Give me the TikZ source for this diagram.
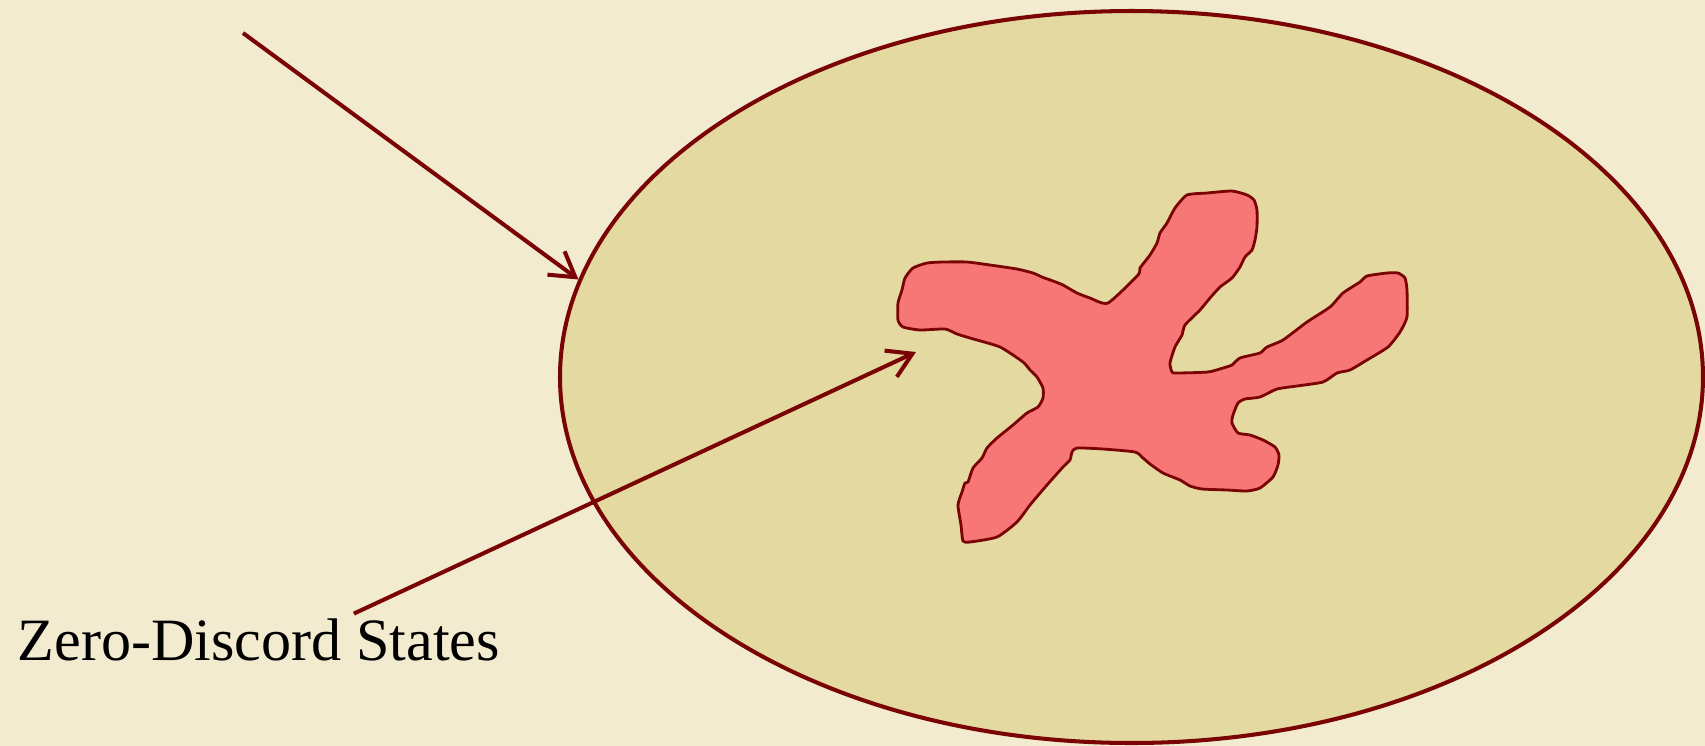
\documentclass[tikz,border=0pt]{standalone}
\definecolor{parchment}{RGB}{242,235,207}
\definecolor{sandfill}{RGB}{228,217,161}
\definecolor{blobred}{RGB}{247,118,118}
\definecolor{darkmaroon}{RGB}{122,4,4}
\usepackage{fontspec}
\setmainfont{Liberation Serif}
\usepackage{tikz}
\usetikzlibrary{shapes.geometric,arrows.meta,positioning,calc}

\begin{document}
\begin{tikzpicture}[x=0.1mm, y=-0.1mm,
    region/.style={ellipse, draw=darkmaroon, fill=sandfill, line width=1.15pt,
                   minimum width=114.3mm, minimum height=73.2mm, inner sep=0pt},
    blob/.style={draw=darkmaroon, fill=blobred, line width=0.8pt},
    label/.style={inner sep=0pt, font=\fontsize{17.1}{20}\selectfont},
    pointer/.style={-{Straight Barb[length=2.4mm,width=2.9mm]}, line width=1.15pt, darkmaroon}]

% Background
\fill[parchment] (0,0) rectangle (1705,746);

% State space
\node[region] (states) at (1131.5,377) {};

% Zero-discord set
\draw[blob] plot[smooth cycle, tension=0.35] coordinates {
  (898,320) (898,303) (902,290) (905,278) (913,268) (927,263) (943,262)
  (967,262) (990,265) (1017,269) (1033,273) (1042,277) (1053,281) (1063,285)
  (1077,293) (1090,298) (1108,303) (1138,275) (1140,268) (1150,255) (1157,243)
  (1160,233) (1167,223) (1175,208) (1187,195) (1207,193) (1232,191) (1247,195)
  (1254,200) (1257,210) (1257,227) (1255,240) (1252,250) (1245,257) (1240,267)
  (1232,278) (1220,287) (1210,298) (1200,310) (1185,325) (1182,335) (1175,347)
  (1170,363) (1172,372) (1177,373) (1208,372) (1223,368) (1232,365) (1240,358)
  (1260,353) (1267,347) (1283,340) (1307,322) (1330,307) (1343,293) (1360,282)
  (1367,276) (1387,273) (1398,273) (1405,278) (1407,290) (1407,317) (1400,332)
  (1388,347) (1367,360) (1350,370) (1337,373) (1323,382) (1297,386) (1277,389)
  (1260,397) (1245,399) (1238,403) (1233,415) (1232,423) (1238,433) (1250,435)
  (1263,440) (1275,447) (1279,455) (1278,465) (1273,477) (1260,488) (1247,491)
  (1227,490) (1202,489) (1190,486) (1180,480) (1163,473) (1150,464) (1143,458)
  (1135,452) (1103,449) (1077,448) (1072,452) (1070,460) (1063,467) (1047,485)
  (1030,505) (1017,522) (997,537) (970,542) (963,541) (961,525) (958,505)
  (962,492) (965,483) (968,482) (973,468) (982,458) (987,448) (997,438)
  (1013,425) (1027,413) (1038,407) (1043,398) (1043,388) (1037,377) (1030,370)
  (1023,362) (1000,347) (970,338) (957,334) (945,329) (920,330) (903,327)};

% Label
\node[label, anchor=base west] (zds) at (17,660) {Zero-Discord States};

% Arrow ends
\coordinate (topstart) at (243,33);
\coordinate (blobtip) at (916,352);

% Arrows
\draw[pointer] (topstart) -- (states.170);
\draw[pointer] ([xshift=9.5mm, yshift=0.4mm]zds.north) -- (blobtip);
\end{tikzpicture}
\end{document}
